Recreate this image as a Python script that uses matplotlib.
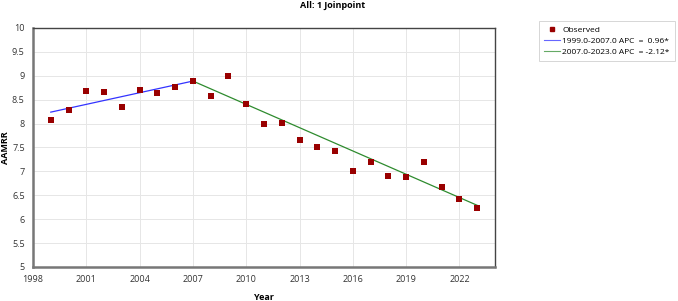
import matplotlib
matplotlib.use('Agg')
import matplotlib.pyplot as plt
from matplotlib.lines import Line2D

# 観測値
years = [1999, 2000, 2001, 2002, 2003, 2004, 2005, 2006, 2007, 2008, 2009, 2010,
         2011, 2012, 2013, 2014, 2015, 2016, 2017, 2018, 2019, 2020, 2021, 2022, 2023]
observed = [8.07, 8.28, 8.68, 8.67, 8.34, 8.70, 8.63, 8.77, 8.90, 8.57, 8.99, 8.42,
            8.00, 8.02, 7.66, 7.51, 7.42, 7.01, 7.20, 6.91, 6.88, 7.19, 6.67, 6.43, 6.24]

# joinpoint のセグメント
seg1_years = [1999, 2007]
seg1_vals = [8.24, 8.89]
seg2_years = [2007, 2023]
seg2_vals = [8.89, 6.29]

seg_labels = ['1999.0-2007.0 APC  =  0.96*', '2007.0-2023.0 APC  = -2.12*']
xticks = [1998, 2001, 2004, 2007, 2010, 2013, 2016, 2019, 2022]
yticks = [5, 5.5, 6, 6.5, 7, 7.5, 8, 8.5, 9, 9.5, 10]

plt.rcParams['font.family'] = ['Open Sans', 'DejaVu Sans']

fig = plt.figure(figsize=(6.78, 3.01), dpi=100, facecolor='white')
ax = fig.add_axes([33 / 678, 1 - 267 / 301, 462 / 678, 239 / 301])

ax.plot(seg1_years, seg1_vals, color='#3333ff', lw=0.9, zorder=2)
ax.plot(seg2_years, seg2_vals, color='#2e8b2e', lw=0.9, zorder=2)
ax.scatter(years, observed, marker='s', s=16, color='#990000', zorder=3, linewidths=0)

ax.set_xlim(1998, 2024)
ax.set_ylim(5, 10)
ax.set_xticks(xticks)
ax.set_xticklabels([str(x) for x in xticks])
ax.set_yticks(yticks)
ax.set_yticklabels(['5', '5.5', '6', '6.5', '7', '7.5', '8', '8.5', '9', '9.5', '10'])
ax.tick_params(length=0, labelsize=6.5, colors='#333333', pad=6)
ax.grid(True, color='#e6e6e6', lw=0.7)
ax.set_axisbelow(True)

for s in ['top', 'right']:
    ax.spines[s].set_color('#444444')
    ax.spines[s].set_linewidth(1.0)
for s in ['left', 'bottom']:
    ax.spines[s].set_color('#777777')
    ax.spines[s].set_linewidth(1.8)

fig.text(333 / 678, 1 - 5 / 301, 'All: 1 Joinpoint', ha='center', va='center',
         fontsize=6.5, fontweight='bold')
fig.text(264 / 678, 1 - 297 / 301, 'Year', ha='center', va='center',
         fontsize=6.5, fontweight='bold')
fig.text(6 / 678, 1 - 148 / 301, 'AAMRR', ha='center', va='center', rotation=90,
         fontsize=6.5, fontweight='bold')

handles = [
    Line2D([], [], marker='s', color='#990000', ls='none', markersize=3.5),
    Line2D([], [], color='#6666ff', lw=0.8),
    Line2D([], [], color='#66aa66', lw=0.8),
]
leg = fig.legend(handles, ['Observed'] + seg_labels, loc='upper left',
                 bbox_to_anchor=(539 / 678, 1 - 21 / 301), fontsize=6,
                 frameon=True, fancybox=False, edgecolor='#cccccc',
                 handlelength=1.9, handletextpad=0.3, labelspacing=0.4,
                 borderpad=0.6, borderaxespad=0)
leg.get_frame().set_linewidth(0.7)

plt.savefig('out.png', dpi=100, facecolor='white')
plt.close(fig)
